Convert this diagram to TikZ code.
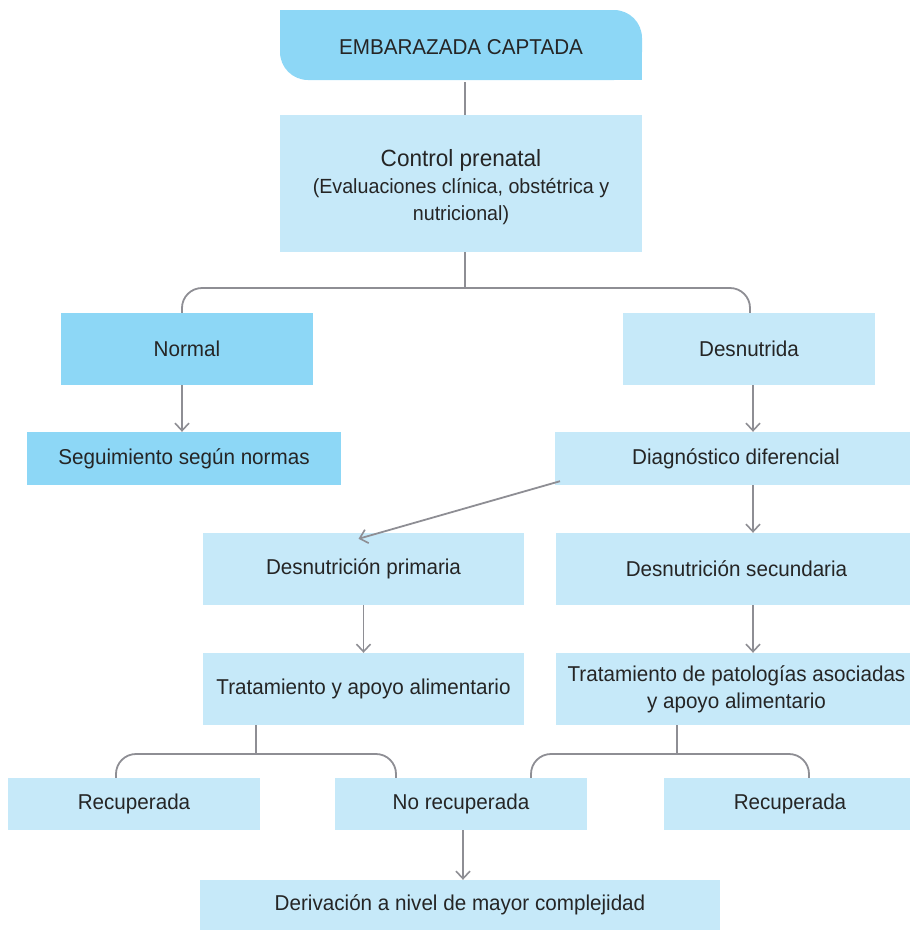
\documentclass[tikz,border=0pt]{standalone}
\usepackage{fontspec}
\setmainfont{Liberation Sans}[FakeStretch=0.96]
\usetikzlibrary{arrows.meta}
\definecolor{boxdark}{HTML}{8DD7F6}
\definecolor{boxlight}{HTML}{C6E9F9}
\definecolor{linegray}{HTML}{8E8E94}
\definecolor{txt}{HTML}{252525}
\tikzset{
  base/.style={rectangle, inner sep=0pt, align=center, text=txt,
    font=\fontsize{21.5}{27}\selectfont},
  dbox/.style={base, fill=boxdark},
  lbox/.style={base, fill=boxlight},
  conn/.style={draw=linegray, line width=1.8pt},
  arr/.style={conn, -{Straight Barb[length=7.5pt,width=14pt,line width=1.6pt]}},
}
\begin{document}
\begin{tikzpicture}[x=1pt,y=-1pt]
\useasboundingbox (0,0) rectangle (910,930);
% top box with two rounded corners
\fill[boxdark, rounded corners=28pt] (280,10) rectangle (642,80);
\fill[boxdark] (280,10) rectangle (330,45);
\fill[boxdark] (600,45) rectangle (642,80);
\node[base, minimum width=362pt, minimum height=70pt] (top) at (461,47) {EMBARAZADA CAPTADA};
\node[lbox, minimum width=362pt, minimum height=137pt] (cp) at (461,183.5) {};
\node[base] (cptext) at (461,187)
  {{\fontsize{23.5}{26}\selectfont Control prenatal}\\{\fontsize{20.5}{26}\selectfont(Evaluaciones clínica, obstétrica y}\\{\fontsize{20.5}{26}\selectfont nutricional)}};
\node[dbox, minimum width=252pt, minimum height=72pt] (normal) at (187,349) {Normal};
\node[lbox, minimum width=252pt, minimum height=72pt] (desn) at (749,349) {Desnutrida};
\node[dbox, minimum width=314pt, minimum height=53pt] (seg) at (184,458.5) {Seguimiento según normas};
\node[lbox, minimum width=362pt, minimum height=53pt] (diag) at (736,458.5) {Diagnóstico diferencial};
\node[lbox, minimum width=321pt, minimum height=72pt] (prim) at (363.5,569) {Desnutrición primaria};
\node[lbox, minimum width=361pt, minimum height=72pt] (sec) at (736.5,569) {Desnutrición secundaria};
\node[lbox, minimum width=321pt, minimum height=72pt] (trat1) at (363.5,689) {Tratamiento y apoyo alimentario};
\node[lbox, minimum width=361pt, minimum height=72pt] (trat2) at (736.5,689) {Tratamiento de patologías asociadas\\y apoyo alimentario};
\node[lbox, minimum width=252pt, minimum height=52pt] (rec1) at (134,804) {Recuperada};
\node[lbox, minimum width=252pt, minimum height=52pt] (norec) at (461,804) {No recuperada};
\node[lbox, minimum width=252pt, minimum height=52pt] (rec2) at (790,804) {Recuperada};
\node[lbox, minimum width=520pt, minimum height=50pt] (der) at (460,905) {Derivación a nivel de mayor complejidad};
% connectors
\draw[conn] ([xshift=4pt]top.south) -- ([xshift=4pt]cp.north);
\coordinate (j1) at (465,288);
\draw[conn] ([xshift=4pt]cp.south) -- (j1);
\draw[conn, rounded corners=20pt] ([xshift=-5pt]normal.north) |- (j1) -| ([xshift=1pt]desn.north);
\draw[arr] ([xshift=-5pt]normal.south) -- ([xshift=-2pt]seg.north);
\draw[arr] ([xshift=4pt]desn.south) -- ([xshift=17pt]diag.north);
\draw[arr] ([xshift=-176pt,yshift=4pt]diag.south) -- ([xshift=-5pt,yshift=-6pt]prim.north);
\draw[arr] ([xshift=17pt]diag.south) -- ([xshift=16.5pt]sec.north);
\draw[arr] (prim.south) -- (trat1.north);
\draw[arr] ([xshift=16.5pt]sec.south) -- ([xshift=16.5pt]trat2.north);
\coordinate (j2) at (256,754);
\draw[conn] (trat1.south -| j2) -- (j2);
\draw[conn, rounded corners=20pt] ([xshift=-18pt]rec1.north) |- (j2) -| ([xshift=-65pt]norec.north);
\coordinate (j3) at (677,754);
\draw[conn] (trat2.south -| j3) -- (j3);
\draw[conn, rounded corners=20pt] ([xshift=70pt]norec.north) |- (j3) -| ([xshift=19pt]rec2.north);
\draw[arr] ([xshift=2pt]norec.south) -- ([xshift=3pt]der.north);
\end{tikzpicture}
\end{document}
